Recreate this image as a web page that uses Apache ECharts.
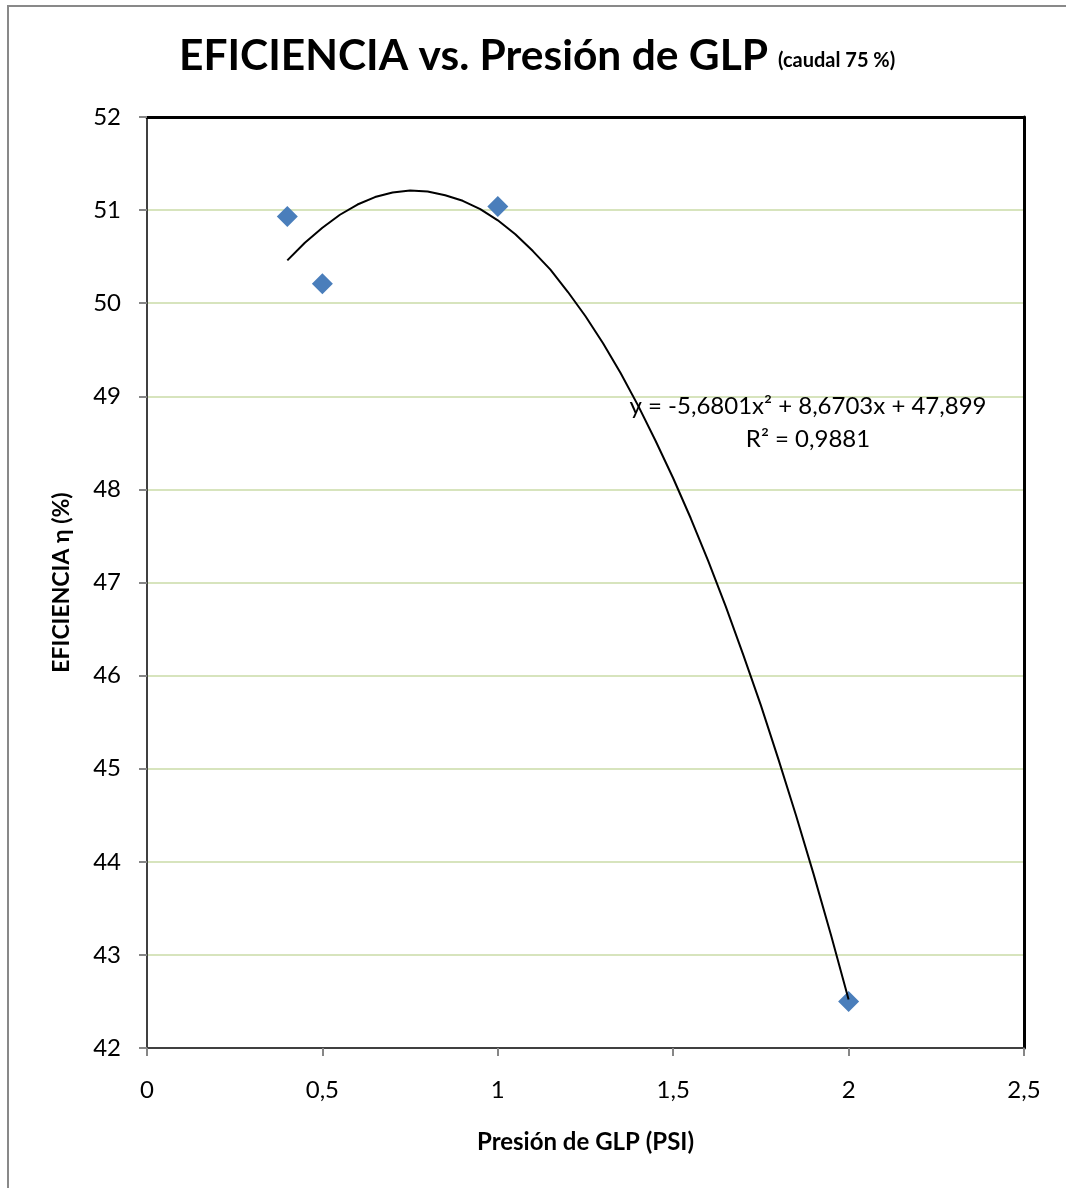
<!DOCTYPE html>
<html>
<head>
<meta charset="utf-8">
<script src="https://cdn.jsdelivr.net/npm/echarts@6/dist/echarts.min.js"></script>
<style>html,body{margin:0;padding:0;background:#fff}#c{width:1066px;height:1188px}</style>
</head>
<body>
<div id="c"></div>
<script>
// Measured data points
const pressure = [0.4, 0.5, 1.0, 2.0];
const efficiency = [50.93, 50.21, 51.04, 42.50];
// Trendline (every 0.05 PSI)
const trendX = [0.40, 0.45, 0.50, 0.55, 0.60, 0.65, 0.70, 0.75, 0.80, 0.85, 0.90, 0.95, 1.00, 1.05, 1.10, 1.15, 1.20,
                1.25, 1.30, 1.35, 1.40, 1.45, 1.50, 1.55, 1.60, 1.65, 1.70, 1.75, 1.80, 1.85, 1.90, 1.95, 2.00];
const trendY = [50.46, 50.65, 50.81, 50.95, 51.06, 51.14, 51.19, 51.21, 51.20, 51.16, 51.10, 51.01, 50.89, 50.74, 50.56, 50.36, 50.12,
                49.86, 49.57, 49.25, 48.90, 48.52, 48.12, 47.69, 47.23, 46.74, 46.22, 45.68, 45.10, 44.50, 43.87, 43.21, 42.52];
const eqText = 'y = -5,6801x² + 8,6703x + 47,899';
const r2Text = 'R² = 0,9881';
const titleMain = 'EFICIENCIA vs. Presión de GLP';
const titleSub = '(caudal 75 %)';
const xName = 'Presión de GLP (PSI)';
const yName = 'EFICIENCIA η (%)';

const FONT = 'Lato, "Open Sans", sans-serif';
const chart = echarts.init(document.getElementById('c'));
const fmt = v => String(v).replace('.', ',');

chart.setOption({
  animation: false,
  backgroundColor: '#fff',
  title: [
    { text: titleMain, left: 179, top: 35, padding: 0, textStyle: { fontFamily: FONT, fontWeight: 'bold', fontSize: 42.5, color: '#000' } },
    { text: titleSub, left: 778, top: 51, padding: 0, textStyle: { fontFamily: FONT, fontWeight: 'bold', fontSize: 20, color: '#000' } }
  ],
  grid: { left: 147, top: 117, right: 42, bottom: 140, show: false },
  xAxis: [{
    type: 'value', min: 0, max: 2.5, interval: 0.5,
    name: xName, nameLocation: 'middle', nameGap: 82,
    nameTextStyle: { fontFamily: FONT, fontWeight: 'bold', fontSize: 24, color: '#000' },
    axisLine: { show: true, onZero: false, lineStyle: { color: '#404040', width: 2 } },
    axisTick: { show: true, length: 8, lineStyle: { color: '#868686', width: 2 } },
    axisLabel: { fontFamily: FONT, fontSize: 24, color: '#000', margin: 30, formatter: fmt },
    splitLine: { show: false }
  }, {
    type: 'value', min: 0, max: 2.5, position: 'top',
    axisLine: { show: true, onZero: false, lineStyle: { color: '#000', width: 3 } },
    axisTick: { show: false }, axisLabel: { show: false }, splitLine: { show: false }
  }],
  yAxis: [{
    type: 'value', min: 42, max: 52, interval: 1,
    name: yName, nameLocation: 'middle', nameGap: 74,
    nameTextStyle: { fontFamily: FONT, fontWeight: 'bold', fontSize: 23, color: '#000' },
    axisLine: { show: true, onZero: false, lineStyle: { color: '#404040', width: 2 } },
    axisTick: { show: true, length: 8, lineStyle: { color: '#868686', width: 2 } },
    axisLabel: { fontFamily: FONT, fontSize: 24, color: '#000', margin: 26 },
    splitLine: { show: true, lineStyle: { color: '#d7e4bd', width: 2 } }
  }, {
    type: 'value', min: 42, max: 52, position: 'right',
    axisLine: { show: true, onZero: false, lineStyle: { color: '#000', width: 3 } },
    axisTick: { show: false }, axisLabel: { show: false }, splitLine: { show: false }
  }],
  series: [{
    type: 'scatter', name: 'data',
    data: pressure.map((x, i) => [x, efficiency[i]]),
    symbol: 'diamond', symbolSize: 21,
    itemStyle: { color: '#4a7ebb', opacity: 1 }, z: 2
  }, {
    type: 'line', name: 'trend',
    data: trendX.map((x, i) => [x, trendY[i]]),
    smooth: false, showSymbol: false, symbol: 'none',
    lineStyle: { color: '#000', width: 2, join: 'round' }, z: 3
  }],
  graphic: [
    { type: 'rect', shape: { x: 8, y: 6, width: 1200, height: 1300 }, style: { fill: 'none', stroke: '#898989', lineWidth: 2 }, z: 100, silent: true },
    { type: 'text', style: { text: eqText, x: 808, y: 406, align: 'center', verticalAlign: 'middle', textAlign: 'center', textVerticalAlign: 'middle', font: '24px ' + FONT, fill: '#000' }, z: 50 },
    { type: 'text', style: { text: r2Text, x: 808, y: 439, align: 'center', verticalAlign: 'middle', textAlign: 'center', textVerticalAlign: 'middle', font: '24px ' + FONT, fill: '#000' }, z: 50 }
  ]
});
</script>
</body>
</html>
